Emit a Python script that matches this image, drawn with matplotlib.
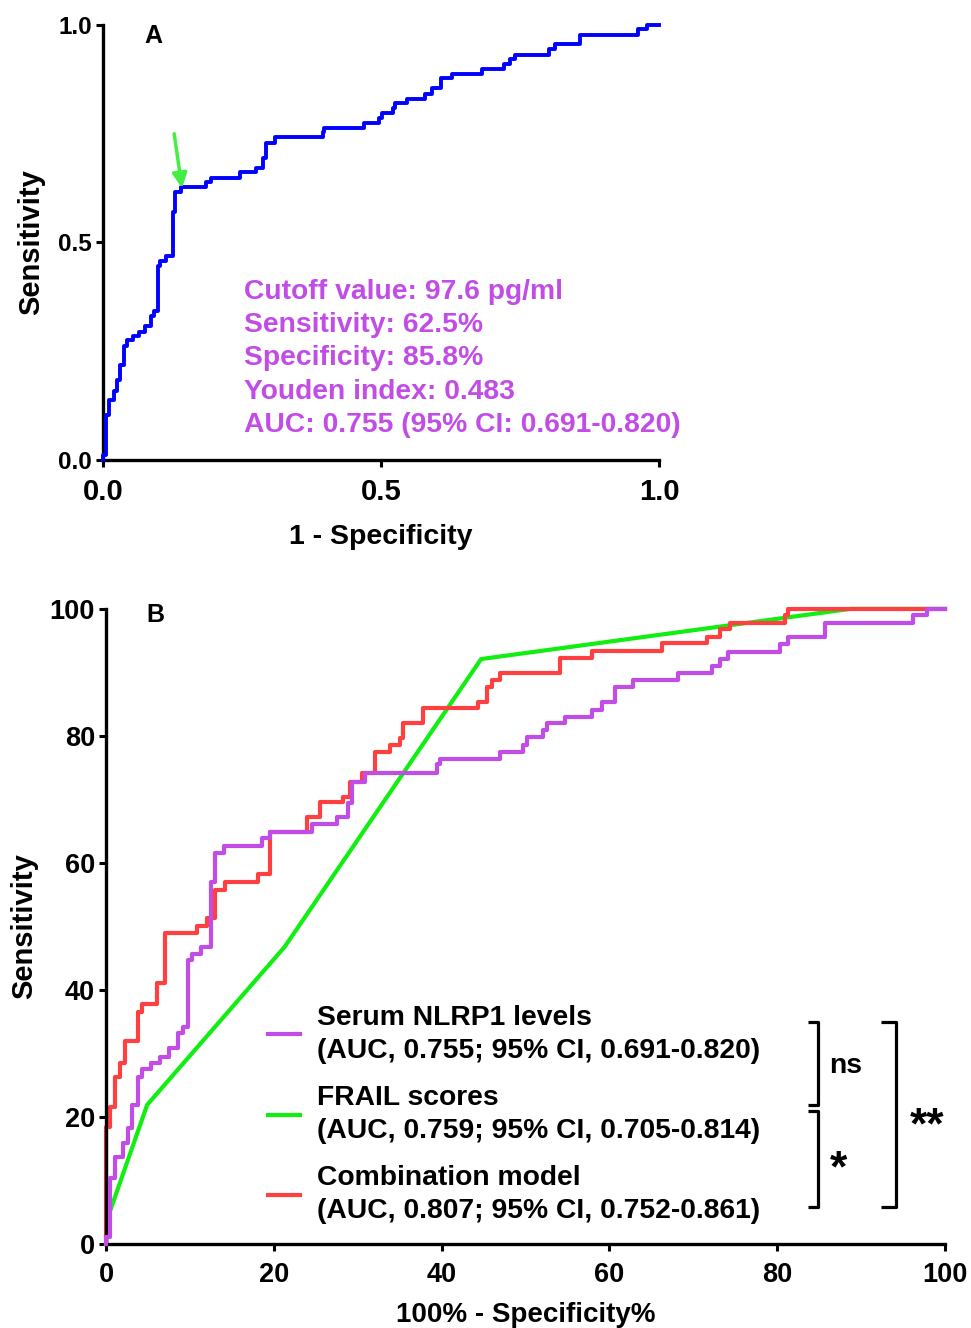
import numpy as np
import matplotlib.pyplot as plt

plt.rcParams['font.family'] = ['Liberation Sans', 'DejaVu Sans']
plt.rcParams['font.weight'] = 'bold'

# ROC of serum NLRP1 (1 - specificity %, sensitivity %), step points
nlrp1_fpr = [0, 0, 0.5, 1.1, 2.0, 2.6, 3.1, 3.8, 4.3, 5.4, 6.4, 7.5, 8.6, 9.2, 9.8,
             10.2, 11.3, 12.5, 13.0, 14.1, 18.6, 19.5, 24.6, 27.5, 28.8, 29.3,
             30.9, 39.5, 39.8, 47.0, 49.7, 50.2, 52.1, 52.6, 54.7, 57.9, 59.1,
             60.7, 62.8, 68.2, 72.2, 73.2, 74.1, 80.3, 81.3, 85.7, 96.2, 97.9, 100]
nlrp1_tpr = [0, 1.1, 10.4, 13.7, 15.9, 18.3, 21.9, 26.3, 27.6, 28.5, 29.5, 30.9, 33.2,
             34.2, 44.7, 45.7, 46.8, 57.0, 61.6, 62.7, 63.9, 64.9, 66.1, 67.2, 69.4,
             72.8, 74.2, 75.5, 76.4, 77.5, 78.6, 79.8, 80.9, 82.0, 83.0, 84.1, 85.4,
             87.7, 88.8, 89.9, 91.0, 92.1, 93.2, 94.5, 95.6, 97.8, 99.1, 100, 100]

# combination model
combo_fpr = [0, 0, 0.5, 1.1, 1.7, 2.3, 3.8, 4.3, 6.1, 7.0, 10.8, 12.0, 13.0, 14.2,
             18.1, 19.6, 24.0, 25.5, 28.2, 29.1, 30.5, 32.1, 33.8, 35.0, 35.4, 37.8,
             44.3, 45.4, 46.0, 47.0, 54.1, 57.9, 66.3, 71.6, 73.2, 74.4, 80.9, 81.3, 100]
combo_tpr = [0, 18.4, 21.6, 26.3, 28.5, 32.0, 36.5, 37.8, 41.1, 49.0, 50.1, 51.3, 55.7,
             57.0, 58.3, 64.9, 67.2, 69.6, 70.4, 72.8, 74.2, 77.5, 78.6, 79.7, 82.0,
             84.4, 85.4, 87.7, 88.8, 89.9, 92.3, 93.4, 94.6, 95.6, 96.9, 97.8, 99.1, 100, 100]

# FRAIL scores (few thresholds, straight segments)
frail_fpr = [0, 0.3, 4.9, 21.3, 44.7, 88.7, 100]
frail_tpr = [0, 4.5, 21.9, 46.8, 92.1, 100, 100]

cutoff_pt = (0.142, 0.625)
info_lines = ["Cutoff value: 97.6 pg/ml", "Sensitivity: 62.5%", "Specificity: 85.8%",
              "Youden index: 0.483", "AUC: 0.755 (95% CI: 0.691-0.820)"]
legend_labels = ["Serum NLRP1 levels\n(AUC, 0.755; 95% CI, 0.691-0.820)",
                 "FRAIL scores\n(AUC, 0.759; 95% CI, 0.705-0.814)",
                 "Combination model\n(AUC, 0.807; 95% CI, 0.752-0.861)"]

purple = '#c24de6'
green = '#11ee11'
red = '#ff4040'


def style(ax, xfs, yfs, xpad):
    for s in ['top', 'right']:
        ax.spines[s].set_visible(False)
    for s in ['left', 'bottom']:
        ax.spines[s].set_linewidth(2.4)
    ax.tick_params(direction='out', length=5, width=2.2, pad=3)
    ax.tick_params(axis='x', labelsize=xfs, pad=xpad)
    ax.tick_params(axis='y', labelsize=yfs)
    for lab in ax.get_xticklabels() + ax.get_yticklabels():
        lab.set_fontweight('bold')


fig = plt.figure(figsize=(9.71, 13.28), dpi=100)

# ---- panel A
axA = fig.add_axes([0.1061, 0.6536, 0.5726, 0.3276])
axA.step(np.array(nlrp1_fpr) / 100, np.array(nlrp1_tpr) / 100, where='post',
         color='#0000ff', lw=2.8, clip_on=False, zorder=3)
axA.set_xlim(0, 1)
axA.set_ylim(0, 1)
axA.set_xticks([0, 0.5, 1.0])
axA.set_yticks([0, 0.5, 1.0])
axA.set_xticklabels(['0.0', '0.5', '1.0'])
axA.set_yticklabels(['0.0', '0.5', '1.0'])
style(axA, 21, 17.5, 8)
axA.set_xlabel('1 - Specificity', fontsize=20.5, fontweight='bold')
axA.set_ylabel('Sensitivity', fontsize=21, fontweight='bold')
axA.xaxis.set_label_coords(0.5, -0.148)
axA.yaxis.set_label_coords(-0.104, 0.5)
axA.text(0.091, 0.975, 'A', transform=axA.transAxes, fontsize=18, fontweight='bold',
         va='center', ha='center')
axA.annotate('', xy=cutoff_pt, xytext=(cutoff_pt[0] - 0.014, cutoff_pt[1] + 0.125),
             arrowprops=dict(arrowstyle='-|>', color='#44ee44', lw=2.5,
                             mutation_scale=22, shrinkA=0, shrinkB=0))
axA.text(0.253, 0.416, '\n'.join(info_lines), transform=axA.transAxes, color=purple,
         fontsize=20.3, fontweight='bold', va='top', ha='left', linespacing=1.36)

# ---- panel B
axB = fig.add_axes([0.1092, 0.0633, 0.8641, 0.4782])
axB.step(nlrp1_fpr, nlrp1_tpr, where='post', color=purple, lw=3, clip_on=False,
         label=legend_labels[0], zorder=3)
axB.plot(frail_fpr, frail_tpr, color=green, lw=3, clip_on=False,
         label=legend_labels[1], zorder=2)
axB.step(combo_fpr, combo_tpr, where='post', color=red, lw=3, clip_on=False,
         label=legend_labels[2], zorder=2.5)
axB.set_xlim(0, 100)
axB.set_ylim(0, 100)
axB.set_xticks(np.arange(0, 101, 20))
axB.set_yticks(np.arange(0, 101, 20))
style(axB, 19.5, 19.5, 8)
axB.set_xlabel('100% - Specificity%', fontsize=20, fontweight='bold')
axB.set_ylabel('Sensitivity', fontsize=21, fontweight='bold')
axB.xaxis.set_label_coords(0.5, -0.092)
axB.yaxis.set_label_coords(-0.081, 0.5)
axB.text(0.059, 0.99, 'B', transform=axB.transAxes, fontsize=18, fontweight='bold',
         va='center', ha='center')
leg = axB.legend(loc='upper left', bbox_to_anchor=(0.193, 0.377), frameon=False,
                 fontsize=20.3, handlelength=1.15, handletextpad=0.6,
                 labelspacing=0.75, borderpad=0, borderaxespad=0)
for t in leg.get_texts():
    t.set_fontweight('bold')
    t.set_linespacing(1.36)

# significance brackets
bk = dict(color='black', lw=2.3, clip_on=False, solid_capstyle='butt')
axB.plot([83.7, 84.9, 84.9, 83.7], [35.0, 35.0, 21.9, 21.9], **bk)
axB.plot([83.7, 84.9, 84.9, 83.7], [20.9, 20.9, 5.8, 5.8], **bk)
axB.plot([92.4, 94.2, 94.2, 92.4], [35.0, 35.0, 5.8, 5.8], **bk)
axB.text(88.1, 28.0, 'ns', fontsize=20.3, fontweight='bold', ha='center', va='center')
axB.text(87.3, 11.6, '*', fontsize=32, fontweight='bold', ha='center', va='center')
axB.text(97.8, 18.4, '**', fontsize=32, fontweight='bold', ha='center', va='center')

fig.savefig('out.png', dpi=100)
